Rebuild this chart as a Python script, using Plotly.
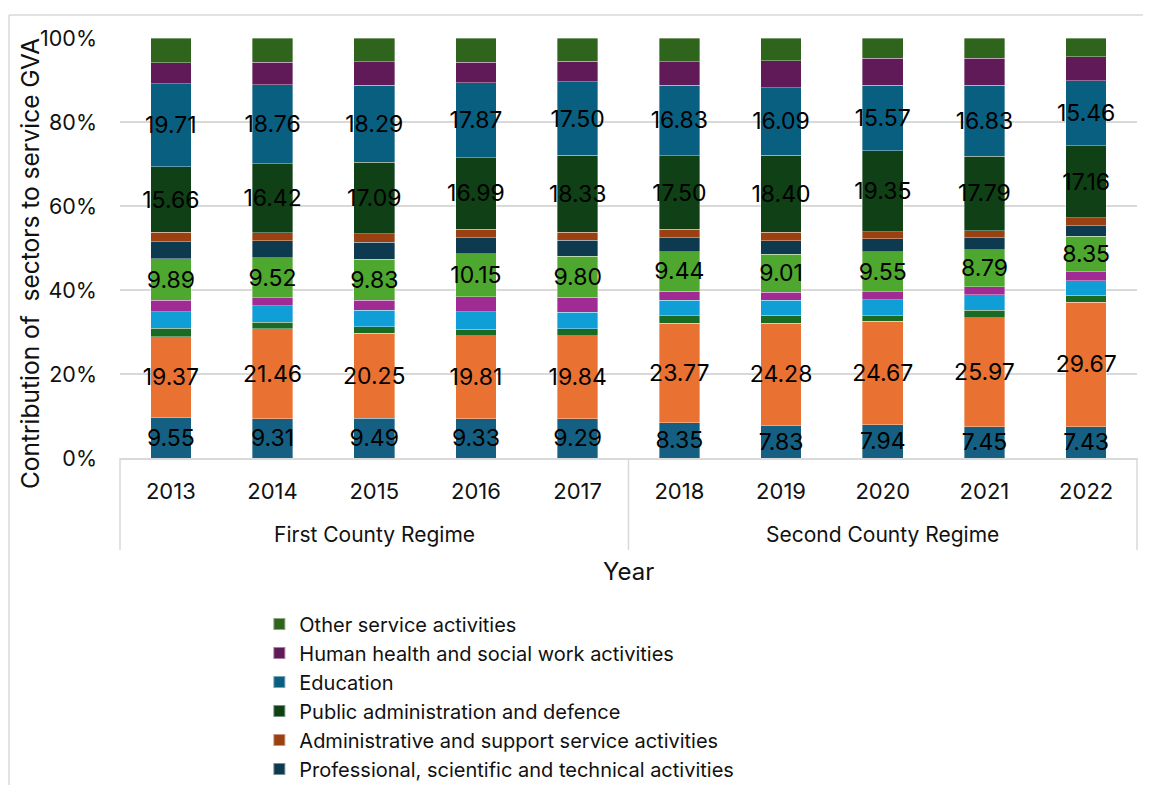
import plotly.graph_objects as go

years = ["2013", "2014", "2015", "2016", "2017", "2018", "2019", "2020", "2021", "2022"]
regime_names = ["First County Regime", "Second County Regime"]

wholesale = [9.55, 9.31, 9.49, 9.33, 9.29, 8.35, 7.83, 7.94, 7.45, 7.43]
transport = [19.37, 21.46, 20.25, 19.81, 19.84, 23.77, 24.28, 24.67, 25.97, 29.67]
accommodation = [2.0, 1.6, 1.5, 1.5, 1.6, 1.7, 1.9, 1.3, 1.8, 1.6]
ict = [3.9, 3.9, 3.9, 4.2, 4.0, 3.7, 3.6, 3.8, 3.6, 3.5]
finance = [2.7, 1.9, 2.4, 3.6, 3.5, 2.2, 1.9, 1.9, 2.0, 2.2]
real_estate = [9.89, 9.52, 9.83, 10.15, 9.80, 9.44, 9.01, 9.55, 8.79, 8.35]
professional = [4.1, 4.0, 4.0, 3.9, 3.8, 3.3, 3.2, 3.0, 2.8, 2.5]
administrative = [2.2, 2.0, 2.0, 2.0, 1.9, 2.0, 2.0, 1.7, 1.7, 1.9]
public_admin = [15.66, 16.42, 17.09, 16.99, 18.33, 17.50, 18.40, 19.35, 17.79, 17.16]
education = [19.71, 18.76, 18.29, 17.87, 17.50, 16.83, 16.09, 15.57, 16.83, 15.46]
health = [5.0, 5.3, 5.6, 4.9, 4.9, 5.5, 6.4, 6.4, 6.5, 5.8]
other = [5.92, 5.83, 5.65, 5.75, 5.54, 5.71, 5.39, 4.82, 4.77, 4.43]

series = [
    ("Wholesale and retail trade; repair of motor vehicles", wholesale, "#156082", True, False),
    ("Transportation and storage", transport, "#E97132", True, False),
    ("Accommodation and food service activities", accommodation, "#196B24", False, False),
    ("Information and communication", ict, "#0F9ED5", False, False),
    ("Financial and insurance activities", finance, "#A02B93", False, False),
    ("Real estate activities", real_estate, "#4EA72E", True, False),
    ("Professional, scientific and technical activities", professional, "#0D3A4E", False, True),
    ("Administrative and support service activities", administrative, "#9A4011", False, True),
    ("Public administration and defence", public_admin, "#0F4016", True, True),
    ("Education", education, "#095F80", True, True),
    ("Human health and social work activities", health, "#601A58", False, True),
    ("Other service activities", other, "#2F641C", False, True),
]

FONT = "Inter"
GRID = "#d9d9d9"

fig = go.Figure()
for name, vals, color, labelled, in_legend in series:
    fig.add_trace(go.Bar(
        x=years,
        y=vals,
        name=name,
        marker=dict(color=color, line=dict(color="rgba(255,255,255,0.45)", width=0.8)),
        text=[f"{v:.2f}" for v in vals] if labelled else None,
        textposition="inside" if labelled else "none",
        insidetextanchor="middle",
        textangle=0,
        textfont=dict(color="black", size=23, family=FONT),
        showlegend=in_legend,
    ))

# page body adds an 8px offset, so the figure is 8px smaller than the window
fig.update_layout(
    barmode="stack",
    barnorm="percent",
    bargap=0.6,
    width=1143,
    height=777,
    margin=dict(l=112, r=14, t=30, b=327, autoexpand=False),
    paper_bgcolor="white",
    plot_bgcolor="white",
    font=dict(family=FONT, size=21, color="#111111"),
    uniformtext=dict(minsize=23, mode="show"),
    legend=dict(
        traceorder="reversed",
        orientation="v",
        x=0.137, xanchor="left",
        y=-0.349, yanchor="top",
        font=dict(size=20, family=FONT),
        itemsizing="constant",
        tracegroupgap=0,
    ),
    xaxis=dict(
        type="category",
        automargin=False,
        showline=True,
        linecolor=GRID,
        linewidth=1.5,
        ticks="",
        ticklabelstandoff=13,
        tickfont=dict(size=22, family=FONT),
    ),
    yaxis=dict(
        automargin=False,
        range=[0, 100],
        dtick=20,
        ticksuffix="%",
        showgrid=True,
        gridcolor=GRID,
        gridwidth=1.5,
        zeroline=False,
        tickfont=dict(size=21.5, family=FONT),
        ticklabelstandoff=22,
    ),
    annotations=[
        dict(text="Contribution of  sectors to service GVA", xref="paper", yref="paper",
             x=-0.0885, y=0.464, textangle=-90, showarrow=False,
             font=dict(size=24.5, family=FONT), xanchor="center", yanchor="middle"),
        dict(text="Year", xref="paper", yref="paper", x=0.5, y=-0.271,
             showarrow=False, font=dict(size=24, family=FONT), xanchor="center", yanchor="middle"),
        dict(text=regime_names[0], xref="paper", yref="paper", x=0.25, y=-0.1833,
             showarrow=False, font=dict(size=21, family=FONT), xanchor="center", yanchor="middle"),
        dict(text=regime_names[1], xref="paper", yref="paper", x=0.75, y=-0.1833,
             showarrow=False, font=dict(size=21, family=FONT), xanchor="center", yanchor="middle"),
    ],
    shapes=[
        dict(type="line", xref="paper", yref="paper", x0=-0.1091, x1=1.03, y0=1.0548, y1=1.0548,
             line=dict(color=GRID, width=1.5)),
        dict(type="line", xref="paper", yref="paper", x0=-0.1091, x1=-0.1091, y0=1.0548, y1=-0.80,
             line=dict(color=GRID, width=1.5)),
    ] + [
        dict(type="line", xref="paper", yref="paper", x0=xp, x1=xp, y0=0, y1=-0.219,
             line=dict(color=GRID, width=1.5))
        for xp in (0, 0.5, 1)
    ],
)

fig.write_html("out.html")
